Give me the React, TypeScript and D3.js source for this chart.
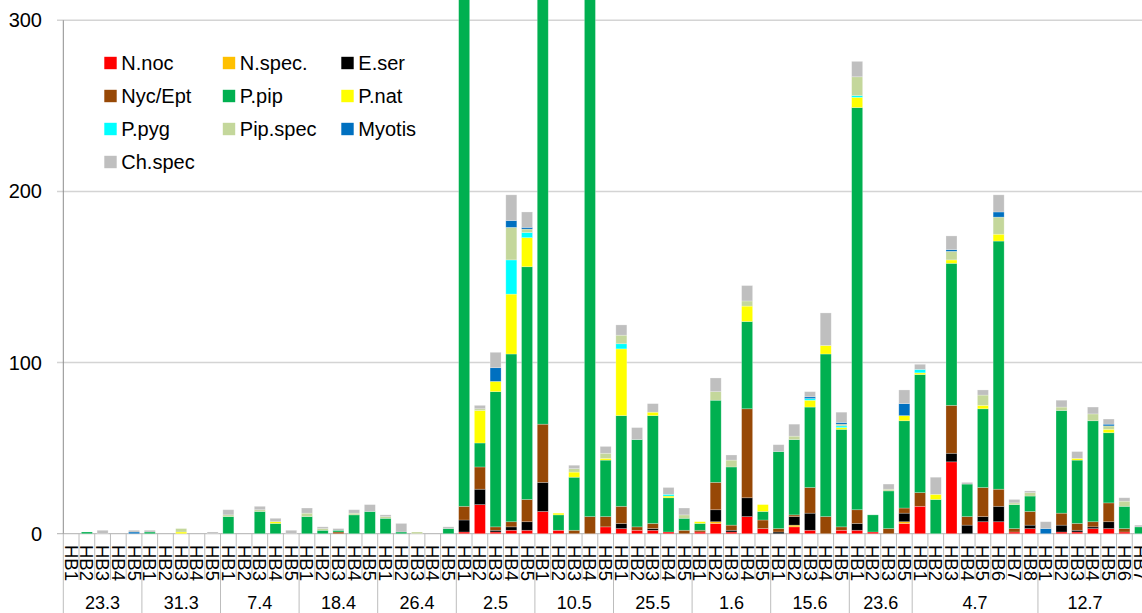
import React from "react";
import * as d3 from "d3";

// ---- data ----
const groupDates = ["23.3", "31.3", "7.4", "18.4", "26.4", "2.5", "10.5", "25.5", "1.6", "15.6", "23.6", "4.7", "12.7"];
const groupHB: string[][] = [
  ["HB1", "HB2", "HB3", "HB4", "HB5"],
  ["HB1", "HB2", "HB3", "HB4", "HB5"],
  ["HB1", "HB2", "HB3", "HB4", "HB5"],
  ["HB1", "HB2", "HB3", "HB4", "HB5"],
  ["HB1", "HB2", "HB3", "HB4", "HB5"],
  ["HB1", "HB2", "HB3", "HB4", "HB5"],
  ["HB1", "HB2", "HB3", "HB4", "HB5"],
  ["HB1", "HB2", "HB3", "HB4", "HB5"],
  ["HB1", "HB2", "HB3", "HB4", "HB5"],
  ["HB1", "HB2", "HB3", "HB4", "HB5"],
  ["HB1", "HB2", "HB3", "HB5"],
  ["HB1", "HB2", "HB3", "HB4", "HB5", "HB6", "HB7", "HB8"],
  ["HB1", "HB2", "HB3", "HB4", "HB5", "HB6", "HB7"],
];

const seriesNames = ["N.noc", "N.spec.", "E.ser", "Nyc/Ept", "P.pip", "P.nat", "P.pyg", "Pip.spec", "Myotis", "Ch.spec"];
const seriesColors = ["#FF0000", "#FFC000", "#000000", "#974806", "#00B050", "#FFFF00", "#00FFFF", "#C4D79B", "#0070C0", "#BFBFBF"];

const nNoc = [
  0, 0, 0, 0, 0, 0, 0, 0, 0, 0, 0, 0, 0, 0, 0, 0, 0, 0, 0, 0, 0, 0, 0, 0, 0,
  1, 17, 1, 2, 2, 13, 2, 0, 0, 4, 3, 2, 2, 1, 0, 1, 6, 1, 10, 3, 0, 4, 2, 0, 2,
  2, 1, 0, 6,
  16, 0, 42, 0, 7, 7, 1, 3,
  0, 1, 1, 3, 3, 1, 0,
];
const nSpec = [
  0, 0, 0, 0, 0, 0, 0, 0, 0, 0, 0, 0, 0, 0, 0, 0, 0, 0, 0, 0, 0, 0, 0, 0, 0,
  0, 0, 0, 0, 0, 0, 0, 0, 0, 0, 0, 0, 0, 0, 0, 0, 1, 0, 0, 0, 0, 1, 0, 0, 0,
  0, 0, 0, 1,
  0, 0, 0, 0, 0, 0, 0, 0,
  0, 0, 0, 0, 0, 0, 0,
];
const eSer = [
  0, 0, 0, 0, 0, 0, 0, 0, 0, 0, 0, 0, 0, 0, 0, 0, 0, 0, 0, 0, 0, 0, 0, 0, 0,
  7, 9, 1, 2, 5, 17, 0, 0, 0, 0, 3, 0, 1, 0, 0, 0, 7, 1, 11, 0, 1, 5, 10, 0, 0,
  4, 0, 0, 5,
  0, 0, 5, 5, 3, 9, 0, 2,
  0, 4, 1, 1, 4, 0, 0,
];
const nycEpt = [
  0, 0, 0, 0, 0, 0, 0, 0, 0, 0, 0, 0, 0, 0, 0, 0, 0, 1, 0, 0, 0, 0, 0, 0, 0,
  8, 13, 2, 3, 13, 34, 0, 2, 10, 6, 10, 2, 3, 0, 2, 1, 16, 3, 52, 5, 2, 1, 15, 10, 2,
  8, 0, 3, 3,
  8, 0, 28, 5, 17, 10, 2, 8,
  0, 7, 4, 3, 11, 2, 0,
];
const pPip = [
  0, 1, 0, 0, 0, 1, 0, 0, 0, 0, 10, 0, 13, 6, 0, 10, 2, 1, 11, 13, 9, 1, 0, 0, 3,
  400, 14, 79, 98, 136, 400, 9, 31, 400, 33, 53, 51, 63, 20, 7, 4, 48, 34, 51, 5, 45, 44, 47, 95, 57,
  235, 10, 22, 51,
  69, 20, 83, 19, 46, 145, 14, 9,
  0, 60, 37, 59, 41, 13, 4,
];
const pNat = [
  0, 0, 0, 0, 0, 0, 0, 1, 0, 0, 0, 0, 0, 1, 0, 0, 0, 0, 0, 0, 0, 0, 0, 0, 0,
  0, 19, 6, 35, 17, 0, 1, 3, 0, 1, 39, 0, 2, 1, 0, 1, 0, 0, 9, 4, 0, 0, 4, 5, 1,
  6, 0, 0, 3,
  1, 3, 2, 0, 2, 4, 0, 0,
  0, 0, 1, 0, 2, 0, 0,
];
const pPyg = [
  0, 0, 0, 0, 0, 0, 0, 0, 0, 0, 0, 0, 0, 0, 0, 0, 0, 0, 0, 0, 0, 0, 0, 0, 0,
  0, 0, 0, 20, 3, 0, 0, 0, 0, 0, 3, 0, 0, 1, 0, 0, 0, 0, 0, 0, 0, 0, 1, 0, 1,
  1, 0, 0, 0,
  2, 0, 0, 0, 0, 0, 0, 0,
  0, 0, 0, 0, 0, 0, 0,
];
const pipSpec = [
  0, 0, 0, 0, 0, 0, 0, 2, 0, 0, 1, 0, 1, 0, 0, 2, 1, 0, 1, 0, 1, 0, 1, 0, 0,
  0, 1, 0, 19, 2, 0, 0, 2, 0, 3, 5, 0, 0, 0, 2, 0, 5, 4, 3, 0, 0, 2, 0, 0, 1,
  11, 0, 1, 0,
  0, 0, 5, 0, 6, 10, 1, 2,
  0, 2, 0, 4, 2, 3, 0,
];
const myotis = [
  0, 0, 0, 0, 1, 0, 0, 0, 0, 0, 0, 0, 0, 0, 0, 0, 0, 0, 0, 0, 0, 0, 0, 0, 0,
  0, 0, 8, 4, 1, 0, 0, 0, 0, 0, 0, 0, 0, 0, 0, 0, 0, 0, 0, 0, 0, 0, 1, 0, 1,
  0, 0, 0, 7,
  0, 0, 1, 0, 0, 3, 0, 0,
  3, 0, 0, 0, 1, 0, 0,
];
const chSpec = [
  0, 0, 2, 0, 1, 1, 0, 0, 0, 1, 3, 0, 2, 2, 2, 3, 1, 1, 2, 4, 1, 5, 0, 0, 1,
  0, 2, 9, 15, 9, 0, 0, 2, 0, 4, 6, 7, 5, 4, 4, 0, 8, 3, 9, 0, 4, 7, 3, 19, 6,
  9, 0, 3, 8,
  3, 10, 8, 1, 3, 10, 2, 1,
  4, 4, 4, 4, 3, 2, 1,
];
const yTicks = [0, 100, 200, 300];

const seriesValues = [nNoc, nSpec, eSer, nycEpt, pPip, pNat, pPyg, pipSpec, myotis, chSpec];

// ---- layout ----
const W = 1142;
const H = 613;
const FONT = "'Liberation Sans', Arial, sans-serif";

export default function App() {
  const categories: { hb: string; group: number }[] = [];
  groupHB.forEach((hbs, g) => hbs.forEach((hb) => categories.push({ hb, group: g })));
  const n = categories.length;

  const rows = categories.map((_, i) => {
    const r: Record<string, number> = {};
    seriesNames.forEach((s, k) => (r[s] = seriesValues[k][i]));
    return r;
  });
  const stacked = d3.stack<Record<string, number>>().keys(seriesNames)(rows);

  const step = 15.72;
  const x0 = 63.3;
  const x = d3
    .scaleBand<number>()
    .domain(d3.range(n))
    .range([x0, x0 + n * step])
    .paddingInner(0.3)
    .paddingOuter(0.15);
  const y = d3.scaleLinear().domain([0, 300]).range([533.7, 20.3]);
  const st = x.step();
  const base = y(0);

  // group boundaries
  const groupStarts: number[] = [];
  let acc = 0;
  groupHB.forEach((g) => {
    groupStarts.push(acc);
    acc += g.length;
  });
  const boundarySet = new Set(groupStarts.concat([n]));

  const legendCols = [104.3, 222.8, 341.3];
  const legendRows = [63, 96, 129, 162];

  return (
    <div style={{ position: "absolute", left: 0, top: 0 }}>
      <svg width={W} height={H} style={{ display: "block", background: "#fff" }} fontFamily={FONT}>
        {/* gridlines */}
        {yTicks.map((t) => (
          <line
            key={"g" + t}
            x1={57}
            x2={W}
            y1={y(t)}
            y2={y(t)}
            stroke={t === 0 ? "#bfbfbf" : "#d4d4d4"}
            strokeWidth={t === 0 ? 1.2 : 1.6}
          />
        ))}
        {/* y tick labels */}
        {yTicks.map((t) => (
          <text key={"yt" + t} x={42} y={y(t)} textAnchor="end" dominantBaseline="central" fontSize={20} fill="#000">
            {t}
          </text>
        ))}
        {/* bars */}
        {stacked.map((layer, k) => (
          <g key={layer.key} fill={seriesColors[k]}>
            {layer.map((d, i) => {
              const h = y(d[0]) - y(d[1]);
              if (!(h > 0.01)) return null;
              return (
                <rect
                  key={i}
                  x={x(i)}
                  y={y(d[1])}
                  width={x.bandwidth()}
                  height={h}
                  stroke="#ffffff"
                  strokeOpacity={0.35}
                  strokeWidth={0.7}
                />
              );
            })}
          </g>
        ))}
        {/* y axis line */}
        <line x1={x0} x2={x0} y1={y(300)} y2={base} stroke="#8c8c8c" strokeWidth={1} />
        {/* x axis category separators */}
        {d3.range(n + 1).map((i) => {
          const xx = x0 + i * st;
          const isGroup = boundarySet.has(i);
          return (
            <line
              key={"sep" + i}
              x1={xx}
              x2={xx}
              y1={base}
              y2={isGroup ? H : 580}
              stroke="#bdbdbd"
              strokeWidth={1}
            />
          );
        })}
        {/* HB labels */}
        {categories.map((c, i) => {
          const cx = (x(i) as number) + x.bandwidth() / 2;
          return (
            <text
              key={"hb" + i}
              transform={`translate(${cx},545) rotate(90)`}
              dominantBaseline="central"
              fontSize={18.5}
              fill="#000"
            >
              {c.hb}
            </text>
          );
        })}
        {/* group date labels, centred over the visible categories of each group */}
        {groupDates.map((g, gi) => {
          const s = x0 + groupStarts[gi] * st;
          let e = x0 + (groupStarts[gi] + groupHB[gi].length) * st;
          while (e > W) e -= st;
          return (
            <text key={"gd" + gi} x={(s + e) / 2} y={603} textAnchor="middle" dominantBaseline="central" fontSize={18} fill="#000">
              {g}
            </text>
          );
        })}
        {/* legend */}
        {seriesNames.map((s, k) => {
          const col = k % 3;
          const row = Math.floor(k / 3);
          const lx = legendCols[col];
          const ly = legendRows[row];
          return (
            <g key={"lg" + k}>
              <rect x={lx} y={ly - 6.2} width={12.4} height={12.4} fill={seriesColors[k]} />
              <text x={lx + 17} y={ly} dominantBaseline="central" fontSize={20} fill="#000">
                {s}
              </text>
            </g>
          );
        })}
      </svg>
    </div>
  );
}
